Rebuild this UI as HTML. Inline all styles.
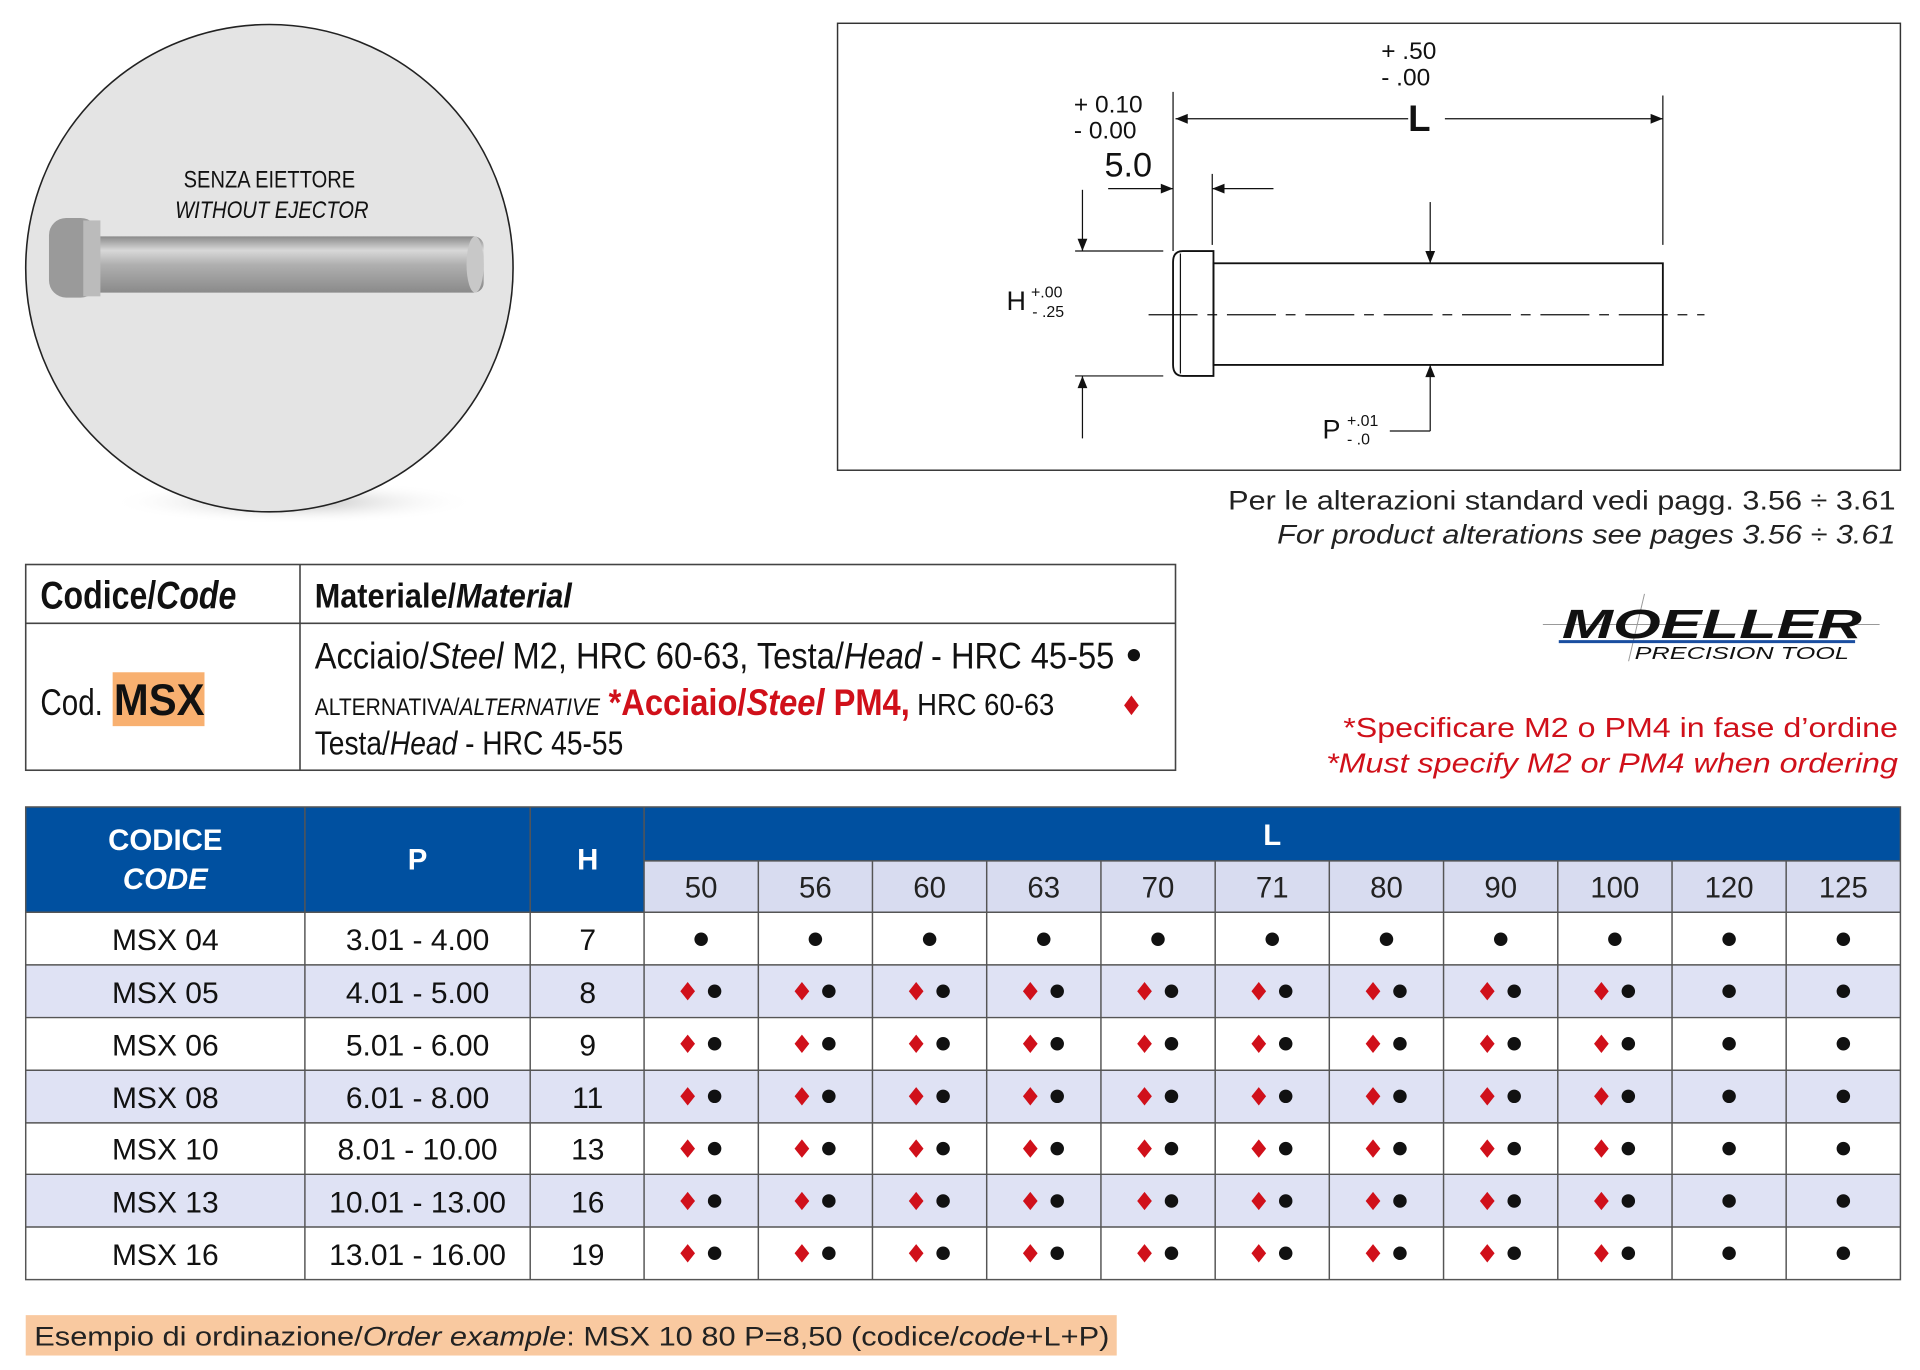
<!DOCTYPE html>
<html><head><meta charset="utf-8"><style>
html,body{margin:0;padding:0;background:#fff;width:1920px;height:1370px;overflow:hidden}
svg{display:block}
text{font-family:"Liberation Sans",sans-serif}
.n{font-family:"Liberation Sans Narrow","Liberation Sans",sans-serif}
</style></head><body>
<svg width="1920" height="1370" viewBox="0 0 1568 1118.8" xmlns="http://www.w3.org/2000/svg">
<defs>
<radialGradient id="sh" cx="50%" cy="50%" r="50%"><stop offset="0" stop-color="#bbb"/><stop offset="1" stop-color="#fff" stop-opacity="0"/></radialGradient>
<linearGradient id="pin" x1="0" y1="0" x2="0" y2="1"><stop offset="0" stop-color="#8a8a8a"/><stop offset="0.25" stop-color="#d8d8d8"/><stop offset="0.5" stop-color="#b0b0b0"/><stop offset="1" stop-color="#8a8a8a"/></linearGradient>
<g id="d"><circle r="5.5" fill="#111"/></g>
<g id="dd"><path d="M-11,-7.5 L-5,0 L-11,7.5 L-17,0Z" fill="#d0101a"/><circle cx="11" r="5.5" fill="#111"/></g>
<marker id="ar" viewBox="0 0 10 10" refX="10" refY="5" markerWidth="14" markerHeight="10" markerUnits="userSpaceOnUse" orient="auto"><path d="M0,1 L10,5 L0,9Z" fill="#111"/></marker>
</defs>

<ellipse cx="240" cy="410" rx="150" ry="18" fill="url(#sh)"/>
<circle cx="220" cy="219" r="199" fill="#e4e4e4" stroke="#222" stroke-width="1.3"/>
<text x="220" y="153" font-size="20" text-anchor="middle" class="n" fill="#111" textLength="140" lengthAdjust="spacingAndGlyphs">SENZA EIETTORE</text>
<text x="222" y="178" font-size="20" text-anchor="middle" class="n" font-style="italic" fill="#111" textLength="158" lengthAdjust="spacingAndGlyphs">WITHOUT EJECTOR</text>
<rect x="60" y="193" width="335" height="46" rx="8" fill="url(#pin)"/>
<ellipse cx="388" cy="216" rx="7" ry="23" fill="#c8c8c8"/>
<rect x="40" y="178" width="40" height="65" rx="14" fill="#9a9a9a"/>
<rect x="68" y="180" width="14" height="62" fill="#bbb"/>

<rect x="684" y="19" width="868" height="365" fill="#fff" stroke="#333" stroke-width="1.2"/>
<g stroke="#111" stroke-width="1" fill="none">
<line x1="958" y1="75" x2="958" y2="205"/>
<line x1="1358" y1="78" x2="1358" y2="200"/>
<line x1="990" y1="142" x2="990" y2="200"/>
<line x1="1150" y1="97" x2="960" y2="97" marker-end="url(#ar)"/>
<line x1="1180" y1="97" x2="1358" y2="97" marker-end="url(#ar)"/>
<line x1="905" y1="154" x2="958" y2="154" marker-end="url(#ar)"/>
<line x1="1040" y1="154" x2="990" y2="154" marker-end="url(#ar)"/>
<line x1="878" y1="205" x2="950" y2="205"/>
<line x1="878" y1="307" x2="950" y2="307"/>
<line x1="884" y1="155" x2="884" y2="205" marker-end="url(#ar)"/>
<line x1="884" y1="358" x2="884" y2="307" marker-end="url(#ar)"/>
<line x1="1168" y1="165" x2="1168" y2="215" marker-end="url(#ar)"/>
<line x1="1168" y1="352" x2="1168" y2="298" marker-end="url(#ar)"/>
<line x1="1168" y1="352" x2="1135" y2="352"/>
<path d="M966,205 H991 V307 H966 Q958,307 958,298 V214 Q958,205 966,205Z" stroke-width="1.5"/>
<line x1="964" y1="207" x2="964" y2="305"/>
<rect x="991" y="215" width="367" height="83" stroke-width="1.5"/>
<line x1="938" y1="257" x2="1392" y2="257" stroke-dasharray="40,8,8,8"/>
</g>
<g fill="#111">
<text x="1128" y="48" font-size="20">+ .50</text>
<text x="1128" y="70" font-size="20">-  .00</text>
<text x="877" y="92" font-size="20">+ 0.10</text>
<text x="877" y="113" font-size="20">-  0.00</text>
<text x="902" y="144" font-size="28">5.0</text>
<text x="1150" y="107" font-size="30" font-weight="bold" class="n">L</text>
<text x="822" y="253" font-size="22">H</text>
<text x="842" y="243" font-size="13">+.00</text>
<text x="843" y="259" font-size="13">- .25</text>
<text x="1080" y="358" font-size="22">P</text>
<text x="1100" y="348" font-size="13">+.01</text>
<text x="1100" y="363" font-size="13">- .0</text>
</g>
<text x="1003" y="416" font-size="22" fill="#222" textLength="545" lengthAdjust="spacingAndGlyphs">Per le alterazioni standard vedi pagg. 3.56 ÷ 3.61</text>
<text x="1043" y="444" font-size="22" fill="#222" font-style="italic" textLength="505" lengthAdjust="spacingAndGlyphs">For product alterations see pages 3.56 ÷ 3.61</text>

<g stroke="#444" stroke-width="1.3" fill="none">
<rect x="21" y="461" width="939" height="168"/>
<line x1="21" y1="509" x2="960" y2="509"/>
<line x1="245" y1="461" x2="245" y2="629"/>
</g>
<g class="n" fill="#111">
<text x="33" y="497" font-size="32" font-weight="bold" class="n" textLength="160" lengthAdjust="spacingAndGlyphs">Codice/<tspan font-style="italic">Code</tspan></text>
<text x="257" y="496" font-size="28" font-weight="bold" class="n" textLength="210" lengthAdjust="spacingAndGlyphs">Materiale/<tspan font-style="italic">Material</tspan></text>
<text x="33" y="584" font-size="30" class="n" textLength="51" lengthAdjust="spacingAndGlyphs">Cod.</text>
<rect x="92" y="549" width="75" height="44" fill="#f8b070"/>
<text x="93" y="584" font-size="36" font-weight="bold" class="n" textLength="74" lengthAdjust="spacingAndGlyphs">MSX</text>
<text x="257" y="546" font-size="30" class="n" textLength="653" lengthAdjust="spacingAndGlyphs">Acciaio/<tspan font-style="italic">Steel</tspan> M2, HRC 60-63, Testa/<tspan font-style="italic">Head</tspan> - HRC 45-55</text>
<circle cx="926" cy="535" r="5" fill="#111"/>
<text x="257" y="584" font-size="20" class="n" textLength="233" lengthAdjust="spacingAndGlyphs">ALTERNATIVA/<tspan font-style="italic">ALTERNATIVE</tspan></text>
<text x="497" y="584" font-size="30" font-weight="bold" class="n" fill="#d0101a" textLength="246" lengthAdjust="spacingAndGlyphs">*Acciaio/<tspan font-style="italic">Steel</tspan> PM4,</text>
<text x="749" y="584" font-size="25" class="n" textLength="112" lengthAdjust="spacingAndGlyphs">HRC 60-63</text>
<path d="M924,568 L930,576 L924,584 L918,576Z" fill="#d0101a"/>
<text x="257" y="616" font-size="27" class="n" textLength="252" lengthAdjust="spacingAndGlyphs">Testa/<tspan font-style="italic">Head</tspan> - HRC 45-55</text>
</g>

<line x1="1260" y1="510" x2="1535" y2="510" stroke="#999" stroke-width="0.8"/>
<line x1="1343" y1="485" x2="1330" y2="540" stroke="#999" stroke-width="0.8"/>
<text x="1398" y="521" font-size="33" font-weight="bold" font-style="italic" text-anchor="middle" fill="#111" textLength="245" lengthAdjust="spacingAndGlyphs">MOELLER</text>
<line x1="1273" y1="524" x2="1515" y2="524" stroke="#1a4ea0" stroke-width="2.5"/>
<text x="1335" y="538" font-size="14" font-style="italic" fill="#111" textLength="175" lengthAdjust="spacingAndGlyphs">PRECISION TOOL</text>

<text x="1097" y="602" font-size="23" fill="#d0101a" textLength="453" lengthAdjust="spacingAndGlyphs">*Specificare M2 o PM4 in fase d’ordine</text>
<text x="1083" y="631" font-size="23" fill="#d0101a" font-style="italic" textLength="467" lengthAdjust="spacingAndGlyphs">*Must specify M2 or PM4 when ordering</text>

<rect x="21" y="659" width="1531" height="86" fill="#0050a0"/>
<rect x="526" y="703" width="1026" height="42" fill="#d8dcf0"/>
<rect x="21" y="788" width="1531" height="43" fill="#dfe2f4"/>
<rect x="21" y="874" width="1531" height="43" fill="#dfe2f4"/>
<rect x="21" y="959" width="1531" height="43" fill="#dfe2f4"/>
<g stroke="#555" stroke-width="1.2" fill="none">
<rect x="21" y="659" width="1531" height="386"/>
<line x1="526" y1="703" x2="1552" y2="703"/>
<line x1="21" y1="745" x2="1552" y2="745"/>
<line x1="21" y1="788" x2="1552" y2="788"/>
<line x1="21" y1="831" x2="1552" y2="831"/>
<line x1="21" y1="874" x2="1552" y2="874"/>
<line x1="21" y1="917" x2="1552" y2="917"/>
<line x1="21" y1="959" x2="1552" y2="959"/>
<line x1="21" y1="1002" x2="1552" y2="1002"/>
<line x1="249" y1="659" x2="249" y2="1045"/>
<line x1="433" y1="659" x2="433" y2="1045"/>
<line x1="526" y1="659" x2="526" y2="1045"/>
<line x1="619.3" y1="703" x2="619.3" y2="1045"/>
<line x1="712.5" y1="703" x2="712.5" y2="1045"/>
<line x1="805.8" y1="703" x2="805.8" y2="1045"/>
<line x1="899.1" y1="703" x2="899.1" y2="1045"/>
<line x1="992.4" y1="703" x2="992.4" y2="1045"/>
<line x1="1085.6" y1="703" x2="1085.6" y2="1045"/>
<line x1="1178.9" y1="703" x2="1178.9" y2="1045"/>
<line x1="1272.2" y1="703" x2="1272.2" y2="1045"/>
<line x1="1365.5" y1="703" x2="1365.5" y2="1045"/>
<line x1="1458.7" y1="703" x2="1458.7" y2="1045"/>
</g>
<g fill="#fff" font-weight="bold" text-anchor="middle" font-size="24">
<text x="135" y="694">CODICE</text>
<text x="135" y="726" font-style="italic">CODE</text>
<text x="341" y="710">P</text>
<text x="480" y="710">H</text>
<text x="1039" y="690">L</text>
</g>
<g fill="#222" text-anchor="middle" font-size="24">
<text x="572.6" y="733">50</text><text x="665.9" y="733">56</text><text x="759.2" y="733">60</text><text x="852.4" y="733">63</text><text x="945.7" y="733">70</text><text x="1039" y="733">71</text><text x="1132.3" y="733">80</text><text x="1225.6" y="733">90</text><text x="1318.8" y="733">100</text><text x="1412.1" y="733">120</text><text x="1505.4" y="733">125</text>
</g>
<g fill="#111" text-anchor="middle" font-size="24.5">
<text x="135" y="776">MSX 04</text><text x="341" y="776">3.01 - 4.00</text><text x="480" y="776">7</text>
<text x="135" y="819">MSX 05</text><text x="341" y="819">4.01 - 5.00</text><text x="480" y="819">8</text>
<text x="135" y="862">MSX 06</text><text x="341" y="862">5.01 - 6.00</text><text x="480" y="862">9</text>
<text x="135" y="905">MSX 08</text><text x="341" y="905">6.01 - 8.00</text><text x="480" y="905">11</text>
<text x="135" y="947">MSX 10</text><text x="341" y="947">8.01 - 10.00</text><text x="480" y="947">13</text>
<text x="135" y="990">MSX 13</text><text x="341" y="990">10.01 - 13.00</text><text x="480" y="990">16</text>
<text x="135" y="1033">MSX 16</text><text x="341" y="1033">13.01 - 16.00</text><text x="480" y="1033">19</text>
</g>
<g transform="translate(0,767)">
<use href="#d" x="572.6"/><use href="#d" x="665.9"/><use href="#d" x="759.2"/><use href="#d" x="852.4"/><use href="#d" x="945.7"/><use href="#d" x="1039"/><use href="#d" x="1132.3"/><use href="#d" x="1225.6"/><use href="#d" x="1318.8"/><use href="#d" x="1412.1"/><use href="#d" x="1505.4"/>
</g>
<g id="r2" transform="translate(0,809.5)">
<use href="#dd" x="572.6"/><use href="#dd" x="665.9"/><use href="#dd" x="759.2"/><use href="#dd" x="852.4"/><use href="#dd" x="945.7"/><use href="#dd" x="1039"/><use href="#dd" x="1132.3"/><use href="#dd" x="1225.6"/><use href="#dd" x="1318.8"/><use href="#d" x="1412.1"/><use href="#d" x="1505.4"/>
</g>
<use href="#r2" y="42.9"/>
<use href="#r2" y="85.8"/>
<use href="#r2" y="128.5"/>
<use href="#r2" y="171.3"/>
<use href="#r2" y="214"/>

<rect x="21" y="1074" width="891" height="33" fill="#f9c9a0"/>
<text x="28" y="1099" font-size="22" fill="#222" textLength="878" lengthAdjust="spacingAndGlyphs">Esempio di ordinazione/<tspan font-style="italic">Order example</tspan>: MSX 10 80 P=8,50 (codice/<tspan font-style="italic">code</tspan>+L+P)</text>
</svg>
</body></html>
